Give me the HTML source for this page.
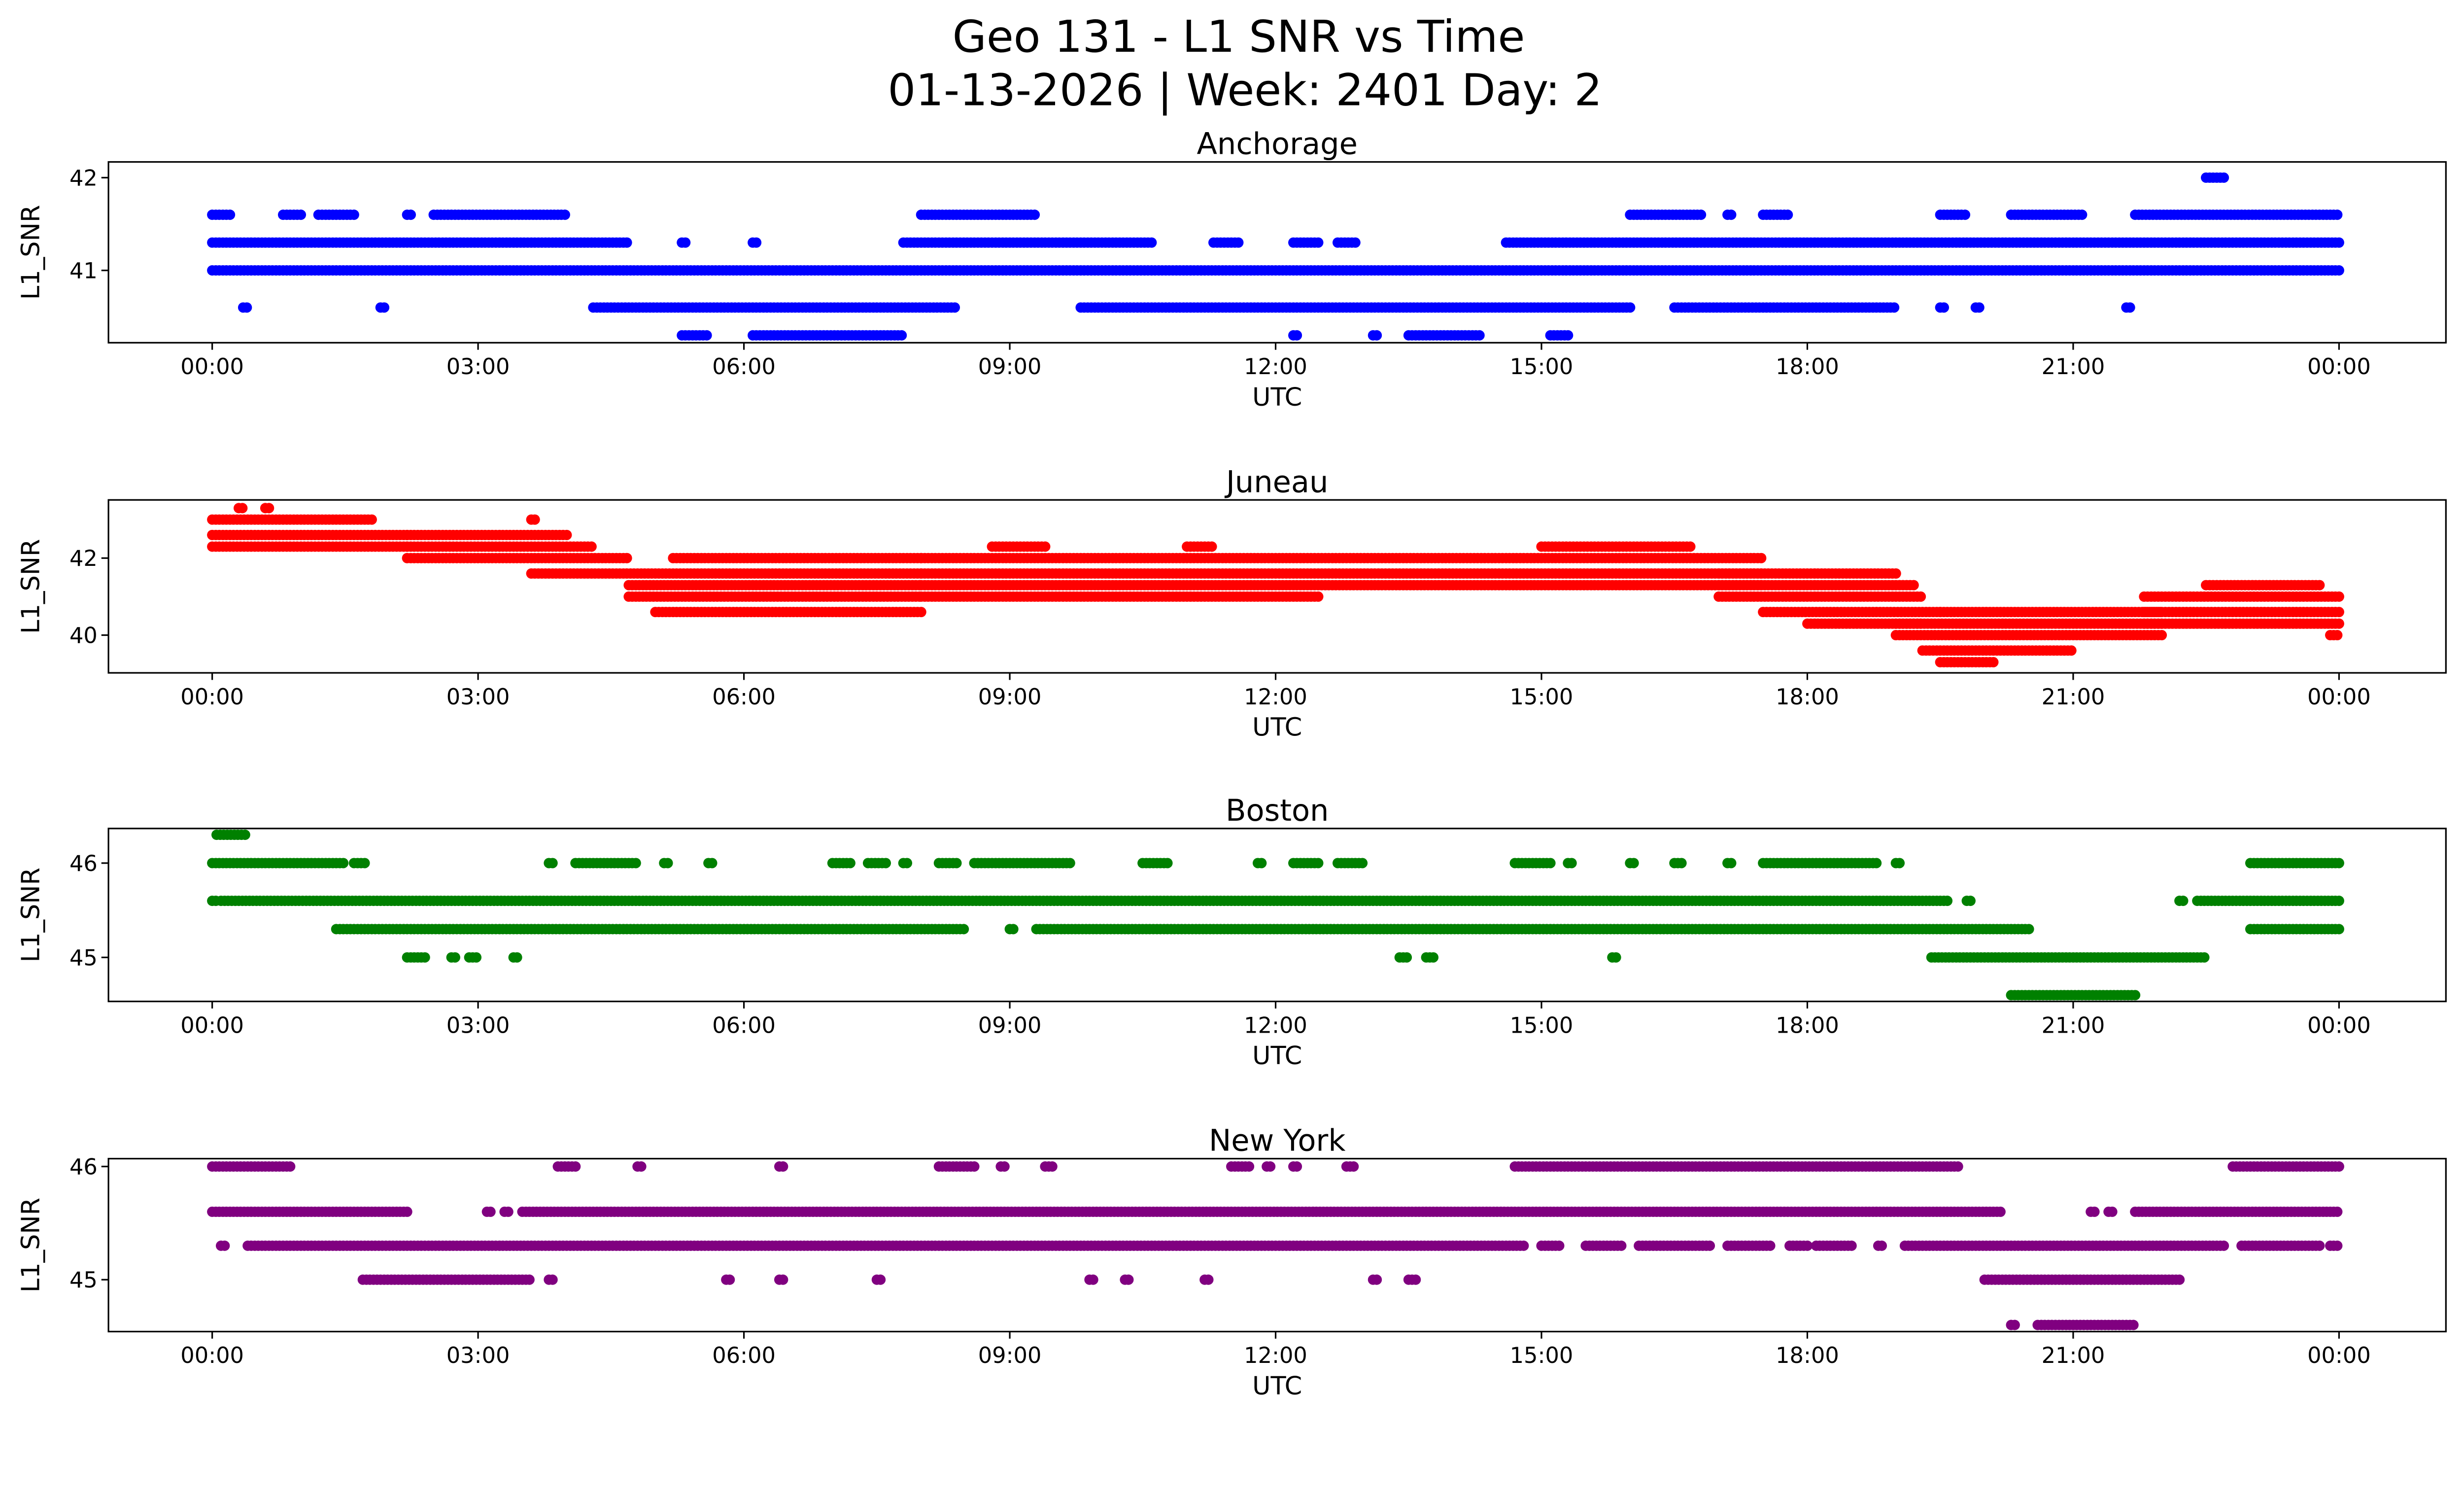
<!DOCTYPE html>
<html><head><meta charset="utf-8">
<style>
html,body{margin:0;padding:0;background:#fff;overflow:hidden;width:100%;height:100%;}
svg{display:block;position:absolute;left:0;top:0;width:100vw;height:58.0478vw;font-family:"DejaVu Sans","Liberation Sans",sans-serif;}
</style></head>
<body>
<svg id="chart" viewBox="0 0 1567.5 910" preserveAspectRatio="none" xmlns="http://www.w3.org/2000/svg">
<text x="788" y="33" text-anchor="middle" font-size="28">Geo 131 - L1 SNR vs Time</text>
<text x="792" y="67" text-anchor="middle" font-size="28">01-13-2026 | Week: 2401 Day: 2</text>
<g id="panels"></g>
</svg>
<script>
// ---- data: runs [startHour, endHour, value] ----
const stations = ["Anchorage","Juneau","Boston","New York"];
const colors = ["#0000ff","#ff0000","#008000","#800080"];
const anchorageRuns = [
 [0,4.7,41.3],[5.3,5.35,41.3],[6.1,6.15,41.3],[7.8,10.6,41.3],[11.3,11.6,41.3],[12.2,12.5,41.3],[12.7,12.9,41.3],[14.6,24,41.3],
 [0,24,41.0],
 [0,0.2,41.6],[0.8,1.0,41.6],[1.2,1.6,41.6],[2.2,2.25,41.6],[2.5,4.0,41.6],[8.0,9.3,41.6],[16.0,16.8,41.6],[17.1,17.15,41.6],[17.5,17.8,41.6],[19.5,19.8,41.6],[20.3,21.1,41.6],[21.7,24,41.6],
 [0.35,0.4,40.6],[1.9,1.95,40.6],[4.3,8.4,40.6],[9.8,16.0,40.6],[16.5,19.0,40.6],[19.5,19.55,40.6],[19.9,19.95,40.6],[21.6,21.65,40.6],
 [5.3,5.6,40.3],[6.1,7.8,40.3],[12.2,12.25,40.3],[13.1,13.15,40.3],[13.5,14.3,40.3],[15.1,15.3,40.3],
 [22.5,22.7,42.0]
];
const juneauRuns = [
 [0,2.2,42.6],[0,2.2,42.3],[0,1.8,43.0],[0.3,0.35,43.3],[0.6,0.65,43.3],[2.2,4.0,42.6],[2.2,4.3,42.3],[2.2,4.7,42.0],[3.6,3.65,43.0],
 [3.6,8.0,41.6],[4.7,8.0,41.3],[4.7,8.0,41.0],[5.0,8.0,40.6],[5.2,8.0,42.0],
 [8.0,17.5,42.0],[8.0,17.5,41.6],[8.0,17.5,41.3],[8.0,12.5,41.0],[8.8,9.4,42.3],[11.0,11.3,42.3],[15.0,16.7,42.3],
 [17.0,19.0,41.6],[17.0,19.2,41.3],[17.0,19.3,41.0],[17.5,19.5,40.6],[18.0,19.3,40.3],
 [19.0,22.0,40.3],[19.0,22.0,40.0],[19.3,21.0,39.6],[19.5,20.1,39.3],[19.5,22.0,40.6],
 [21.8,24,40.6],[21.8,24,41.0],[21.8,24,40.3],[22.5,23.8,41.3],[23.9,24,40.0]
];
const bostonRuns = [
 [0.05,0.4,46.3],
 [0,1.5,46.0],[1.6,1.75,46.0],[3.8,3.85,46.0],[4.1,4.8,46.0],[5.1,5.15,46.0],[5.6,5.65,46.0],[7.0,7.2,46.0],[7.4,7.6,46.0],[7.8,7.85,46.0],[8.2,8.4,46.0],[8.6,9.7,46.0],[10.5,10.8,46.0],[11.8,11.85,46.0],[12.2,12.5,46.0],[12.7,13.0,46.0],[14.7,15.1,46.0],[15.3,15.35,46.0],[16.0,16.05,46.0],[16.5,16.6,46.0],[17.1,17.15,46.0],[17.5,18.8,46.0],[19.0,19.05,46.0],[23.0,24,46.0],
 [0,0.05,45.6],[0.1,19.6,45.6],[19.8,19.85,45.6],[22.2,22.25,45.6],[22.4,24,45.6],
 [1.4,8.5,45.3],[9.0,9.05,45.3],[9.3,20.5,45.3],[23.0,24,45.3],
 [2.2,2.4,45.0],[2.7,2.75,45.0],[2.9,3.0,45.0],[3.4,3.45,45.0],[13.4,13.5,45.0],[13.7,13.8,45.0],[15.8,15.85,45.0],[19.4,22.5,45.0],
 [20.3,21.7,44.6]
];
const newYorkRuns = [
 [0,0.9,46.0],[3.9,4.1,46.0],[4.8,4.85,46.0],[6.4,6.45,46.0],[8.2,8.6,46.0],[8.9,8.95,46.0],[9.4,9.5,46.0],[11.5,11.7,46.0],[11.9,11.95,46.0],[12.2,12.25,46.0],[12.8,12.9,46.0],[14.7,19.7,46.0],[22.8,24,46.0],
 [0,2.2,45.6],[3.1,3.15,45.6],[3.3,3.35,45.6],[3.5,20.2,45.6],[21.2,21.25,45.6],[21.4,21.45,45.6],[21.7,24,45.6],
 [0.1,0.15,45.3],[0.4,14.8,45.3],[15.0,15.2,45.3],[15.5,15.9,45.3],[16.1,16.9,45.3],[17.1,17.6,45.3],[17.8,18.0,45.3],[18.1,18.5,45.3],[18.8,18.85,45.3],[19.1,22.7,45.3],[22.9,23.8,45.3],[23.9,24,45.3],
 [1.7,3.6,45.0],[3.8,3.85,45.0],[5.8,5.85,45.0],[6.4,6.45,45.0],[7.5,7.55,45.0],[9.9,9.95,45.0],[10.3,10.35,45.0],[11.2,11.25,45.0],[13.1,13.15,45.0],[13.5,13.6,45.0],[20.0,22.2,45.0],
 [20.3,20.35,44.6],[20.6,21.7,44.6]
];
const allRuns = [anchorageRuns, juneauRuns, bostonRuns, newYorkRuns];
const yTicks = [[41,42],[40,42],[45,46],[45,46]];
const xTickLabels = ["00:00","03:00","06:00","09:00","12:00","15:00","18:00","21:00","00:00"];

// ---- layout ----
const panelTops=[103,318,527,737], panelH=[115,110,110,110];
const yRef=[[42,113,59],[42,355,24.5],[46,549,60],[46,742,72]]; // value, pixel, px per unit
const X0=69, X1=1556, T0=135, T24=1488;
const NS="http://www.w3.org/2000/svg";
const root=document.getElementById('panels');
function mk(tag,attrs,parent){const e=document.createElementNS(NS,tag);for(const k in attrs)e.setAttribute(k,attrs[k]);parent.appendChild(e);return e;}
const xScale=h=>T0+(T24-T0)*h/24;

allRuns.forEach((runs,p)=>{
  const yScale=v=>yRef[p][1]-(v-yRef[p][0])*yRef[p][2];
  const g=mk('g',{},root);
  
  
  const top=panelTops[p], bot=top+panelH[p];
  const t=mk('text',{x:(X0+X1)/2,y:top-5,'text-anchor':'middle','font-size':'19'},g);
  t.textContent=stations[p];
  
  
  const clip=mk('clipPath',{id:'c'+p},g);
  mk('rect',{x:X0,y:top,width:X1-X0,height:bot-top},clip);
  const pts=mk('g',{fill:colors[p],'clip-path':'url(#c'+p+')'},g);
  
  
  runs.forEach(r=>{
    const y=yScale(r[2]);
    for(let h=r[0];h<=r[1]+1e-9;h+=0.04){
      mk('circle',{cx:xScale(h).toFixed(1),cy:y.toFixed(1),r:3.3},pts);
    }
  });
  const fr=mk('rect',{x:X0,y:top,width:X1-X0,height:bot-top,fill:'none',stroke:'#000','stroke-width':1},g);
  
  
  xTickLabels.forEach((lab,i)=>{
    const x=xScale(i*3);
    mk('line',{x1:x,x2:x,y1:bot,y2:bot+4.5,stroke:'#000','stroke-width':1},g);
    const tt=mk('text',{x:x,y:bot+20,'text-anchor':'middle','font-size':'14'},g);
    tt.textContent=lab;
    
    
  });
  yTicks[p].forEach(v=>{
    const y=yScale(v);
    mk('line',{x1:X0-4.5,x2:X0,y1:y,y2:y,stroke:'#000','stroke-width':1},g);
    const tt=mk('text',{x:X0-7,y:y+5,'text-anchor':'end','font-size':'14'},g);
    tt.textContent=v;
    
    
  });
  const xl=mk('text',{x:(X0+X1)/2,y:bot+40,'text-anchor':'middle','font-size':'16'},g);
  xl.textContent='UTC';
  
  
  const cy=(top+bot)/2;
  const yl=mk('text',{x:25,y:cy,'text-anchor':'middle','font-size':'16',transform:'rotate(-90 25 '+cy+')'},g);
  yl.textContent='L1_SNR';
  
  
});
</script>
</body></html>
